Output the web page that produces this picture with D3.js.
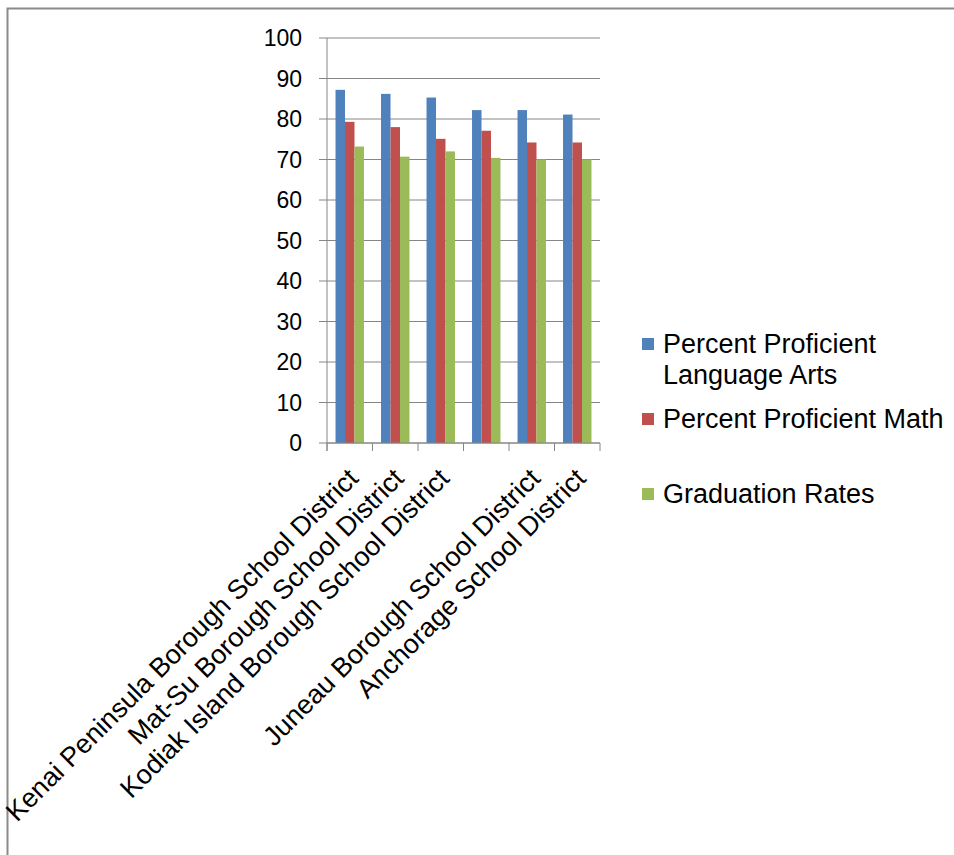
<!DOCTYPE html>
<html>
<head>
<meta charset="utf-8">
<script src="https://cdn.jsdelivr.net/npm/d3@7"></script>
<style>
  body { margin: 0; background: #fff; }
  text { font-family: "Liberation Sans", Arial, sans-serif; fill: #000; }
</style>
</head>
<body>
<svg id="chart" width="954" height="855"></svg>
<script>
// districts (4th label is blank in the source chart)
const districts = [
    'Kenai Peninsula Borough School District',
    'Mat-Su Borough School District',
    'Kodiak Island Borough School District',
    '',
    'Juneau Borough School District',
    'Anchorage School District'
];
const seriesNames = ['Percent Proficient Language Arts', 'Percent Proficient Math', 'Graduation Rates'];
const languageArts = [87.2, 86.2, 85.3, 82.2, 82.2, 81.1];
const math = [79.3, 78.0, 75.1, 77.1, 74.2, 74.2];
const gradRates = [73.2, 70.7, 72.0, 70.4, 70.0, 70.0];
const yTicks = [0, 10, 20, 30, 40, 50, 60, 70, 80, 90, 100];
const colors = ['#4F81BD', '#C0504D', '#9BBB59'];

const rows = districts.map((d, i) => ({ key: i, name: d, values: [languageArts[i], math[i], gradRates[i]] }));

const svg = d3.select('#chart');
const plot = { left: 327, right: 600, top: 38, bottom: 443 };
const axisColor = '#868686';

// outer frame of the pasted chart
svg.append('path')
    .attr('d', 'M7.5,855 V8.5 H954')
    .attr('fill', 'none')
    .attr('stroke', '#8a8a8a')
    .attr('stroke-width', 2);

const x0 = d3.scaleBand().domain(rows.map(r => r.key)).range([plot.left, plot.right]);
const x1 = d3.scaleBand().domain([0, 1, 2]).range([0, x0.bandwidth()]).paddingOuter(0.9);
const y = d3.scaleLinear().domain([0, 100]).range([plot.bottom, plot.top]);

// gridlines + y ticks
svg.append('g').selectAll('line')
    .data(yTicks)
    .join('line')
    .attr('x1', plot.left - 8).attr('x2', plot.right)
    .attr('y1', d => y(d)).attr('y2', d => y(d))
    .attr('stroke', axisColor).attr('stroke-width', 1);

svg.append('g').selectAll('text')
    .data(yTicks)
    .join('text')
    .attr('x', 302)
    .attr('y', d => y(d))
    .attr('dy', '0.36em')
    .attr('text-anchor', 'end')
    .attr('font-size', 23)
    .text(d => d);

// bars
svg.append('g').selectAll('g')
    .data(rows)
    .join('g')
    .attr('transform', d => `translate(${x0(d.key)},0)`)
    .selectAll('rect')
    .data(d => d.values.map((v, s) => ({ s, v })))
    .join('rect')
    .attr('x', d => x1(d.s))
    .attr('width', x1.bandwidth())
    .attr('y', d => y(d.v))
    .attr('height', d => y(0) - y(d.v))
    .attr('fill', d => colors[d.s]);

// y axis line
svg.append('line')
    .attr('x1', plot.left).attr('x2', plot.left)
    .attr('y1', plot.top).attr('y2', plot.bottom + 8)
    .attr('stroke', axisColor);

// x axis with category boundary ticks
svg.append('line')
    .attr('x1', plot.left).attr('x2', plot.right)
    .attr('y1', plot.bottom).attr('y2', plot.bottom)
    .attr('stroke', axisColor);
const bounds = rows.map(r => x0(r.key)).concat([plot.right]);
svg.append('g').selectAll('line')
    .data(bounds)
    .join('line')
    .attr('x1', d => d).attr('x2', d => d)
    .attr('y1', plot.bottom).attr('y2', plot.bottom + 8)
    .attr('stroke', axisColor);

// rotated category labels
svg.append('g').selectAll('text')
    .data(rows)
    .join('text')
    .attr('transform', d => `translate(${x0(d.key) + x0.bandwidth() / 2 + 10},480) rotate(-45)`)
    .attr('text-anchor', 'end')
    .attr('font-size', 27)
    .text(d => d.name);

// legend
const legend = svg.append('g').selectAll('g')
    .data(seriesNames)
    .join('g')
    .attr('transform', (d, i) => `translate(642,${344 + i * 75})`);

legend.append('rect')
    .attr('x', 0).attr('y', -6)
    .attr('width', 12).attr('height', 12)
    .attr('fill', (d, i) => colors[i]);

legend.append('text')
    .attr('x', 21)
    .attr('y', 8.5)
    .attr('font-size', 27)
    .each(function (d) {
        const t = d3.select(this);
        const words = d.split(' ');
        let line = [];
        let tspan = t.append('tspan').attr('x', 21).attr('dy', 0);
        words.forEach(w => {
            line.push(w);
            tspan.text(line.join(' '));
            if (tspan.node().getComputedTextLength() > 290 && line.length > 1) {
                line.pop();
                tspan.text(line.join(' '));
                line = [w];
                tspan = t.append('tspan').attr('x', 21).attr('dy', 31).text(w);
            }
        });
    });
</script>
</body>
</html>
